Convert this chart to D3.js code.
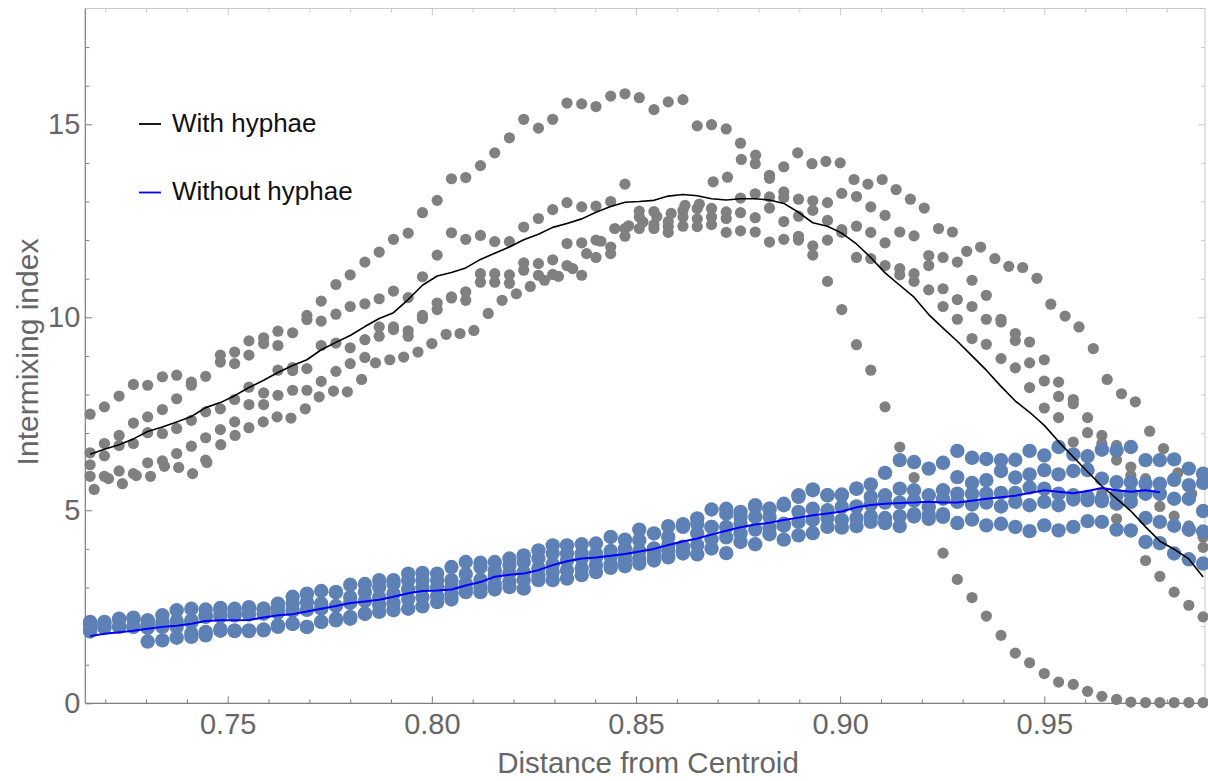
<!DOCTYPE html>
<html>
<head>
<meta charset="utf-8">
<script src="https://cdn.jsdelivr.net/npm/d3@7"></script>
<style>
  body { margin: 0; background: #ffffff; }
  svg { display: block; }
  text { font-family: "Liberation Sans", Arial, Helvetica, sans-serif; }
</style>
</head>
<body>
<svg id="chart" width="1208" height="781"></svg>
<script>
// Normalised distance from the colony centroid at which each profile was sampled
const radius = [0.7163,0.7198,0.7234,0.7269,0.7304,0.7340,0.7375,0.7411,0.7446,0.7482,
  0.7517,0.7552,0.7588,0.7623,0.7659,0.7694,0.7729,0.7765,0.7800,0.7836,
  0.7871,0.7906,0.7942,0.7977,0.8013,0.8048,0.8083,0.8119,0.8154,0.8190,
  0.8225,0.8261,0.8296,0.8331,0.8367,0.8402,0.8438,0.8473,0.8508,0.8544,
  0.8579,0.8615,0.8650,0.8685,0.8721,0.8756,0.8792,0.8827,0.8862,0.8898,
  0.8933,0.8969,0.9004,0.9040,0.9075,0.9110,0.9146,0.9181,0.9217,0.9252,
  0.9287,0.9323,0.9358,0.9394,0.9429,0.9464,0.9500,0.9535,0.9571,0.9606,
  0.9641,0.9677,0.9712,0.9748,0.9783,0.9818,0.9854,0.9889];

// The second colony with hyphae was sampled on a slightly finer radial grid
const radiusColony2 = [0.7173,0.7208,0.7242,0.7276,0.7311,0.7345,0.7380,0.7414,0.7449,0.7483,
  0.7518,0.7552,0.7587,0.7621,0.7655,0.7690,0.7724,0.7759,0.7793,0.7828,
  0.7862,0.7897,0.7931,0.7966,0.8000,0.8035,0.8069,0.8103,0.8138,0.8172,
  0.8207,0.8241,0.8276,0.8310,0.8345,0.8379,0.8414,0.8448,0.8482,0.8517,
  0.8551,0.8586,0.8620,0.8655,0.8689,0.8724,0.8758,0.8793,0.8827,0.8862,
  0.8896,0.8931,0.8965,0.9000,0.9034,0.9068,0.9103,0.9137,0.9172,0.9206,
  0.9241,0.9275,0.9310,0.9344,0.9379,0.9413,0.9447,0.9482,0.9516,0.9551,
  0.9585,0.9620,0.9654,0.9689,0.9723,0.9758,0.9792,0.9827,0.9861];

// Intermixing index, colonies grown with hyphae
const withHyphae1 = [7.49,7.68,7.96,8.26,8.24,8.46,8.50,8.32,8.47,9.02,9.10,9.39,9.47,9.64,9.60,10.05,10.42,10.85,11.10,11.43,
  11.69,12.02,12.18,12.71,13.03,13.59,13.62,13.93,14.26,14.65,15.13,14.90,15.13,15.55,15.53,15.46,15.73,15.79,15.69,15.38,
  15.58,15.64,14.96,14.99,14.88,14.51,13.98,13.60,13.25,12.62,11.61,10.93,10.20,9.29,8.63,7.68,6.64,5.85,4.95,3.89,
  3.21,2.74,2.26,1.76,1.30,1.05,0.77,0.55,0.49,0.31,0.18,0.10,0.03,0.02,0.02,0.02,0.02,0.02];
const withHyphae2 = [5.54,5.82,5.69,5.90,5.88,6.14,6.11,5.95,6.24,6.70,6.94,7.14,7.29,7.42,7.39,7.63,7.94,8.09,8.07,8.39,
  8.82,8.90,8.97,9.10,9.32,9.56,9.58,9.66,10.10,10.44,10.61,10.80,10.96,11.06,11.26,11.65,11.97,12.30,12.37,12.47,
  12.61,12.69,12.90,12.93,13.51,13.63,14.09,14.20,13.68,13.90,14.26,13.98,14.04,14.00,13.57,13.45,13.57,13.31,13.06,12.83,
  12.30,12.21,11.71,11.82,11.52,11.32,11.29,11.01,10.34,10.03,9.75,9.19,8.39,8.02,7.81,7.05,6.60,5.97,5.43];
const withHyphae3 = [6.49,6.73,6.94,7.26,7.42,7.61,7.89,8.24,7.55,8.84,8.80,9.02,9.32,9.27,8.70,9.94,9.90,10.08,10.28,10.35,
  10.48,10.68,10.51,11.05,11.61,12.19,12.02,12.12,11.96,11.96,12.34,12.56,12.79,12.97,12.86,12.88,13.00,13.45,12.75,12.74,
  12.48,12.77,12.82,12.82,12.73,13.09,13.20,13.12,13.10,13.06,13.02,12.97,13.21,13.13,12.86,12.64,12.21,12.11,11.60,11.55,
  11.43,10.96,10.57,9.95,9.58,9.36,8.90,8.32,7.87,7.40,6.94,6.68,6.12,5.82,5.39,4.85,4.60,4.30];
const withHyphae4 = [6.18,6.41,6.68,6.73,7.01,6.99,7.12,7.33,6.88,7.63,7.87,8.19,8.04,8.63,8.62,8.67,9.27,9.33,9.21,9.42,
  9.75,9.75,9.65,10.05,10.37,10.53,10.66,11.13,11.13,11.10,11.41,11.39,11.49,11.91,11.93,12.00,11.82,12.30,12.60,12.40,
  12.35,12.60,12.55,12.60,12.56,12.71,12.58,12.83,12.48,12.10,12.77,12.51,12.27,12.36,12.20,11.93,11.26,11.13,11.34,10.74,
  10.46,10.28,9.95,9.88,9.40,8.82,8.35,7.95,7.76,7.01,6.73,6.30,5.90,5.50,5.10,4.61,4.46,4.04];
const withHyphae5 = [5.88,5.88,6.02,5.95,6.23,6.28,6.47,6.66,6.30,7.09,7.29,7.74,7.74,7.98,8.11,8.11,8.34,8.60,8.80,8.96,
  9.51,9.68,9.51,9.97,10.20,10.50,10.44,10.91,10.91,10.88,11.22,11.09,11.11,11.34,11.09,11.55,11.65,12.10,12.30,12.30,
  12.20,12.36,12.35,12.40,12.20,12.24,12.21,11.95,12.02,12.00,11.85,12.00,12.20,11.55,11.52,11.34,11.10,10.93,10.71,10.28,
  9.95,9.45,9.30,8.93,8.69,8.18,7.65,7.40,6.77,6.10,5.43,4.78,4.44,3.70,3.29,2.88,2.54,2.24];
const withHyphaeMean = [6.45,6.58,6.70,6.85,7.04,7.16,7.29,7.43,7.66,7.79,7.97,8.18,8.37,8.57,8.75,8.90,9.16,9.35,9.53,9.76,
  9.97,10.12,10.46,10.83,11.07,11.16,11.28,11.50,11.66,11.82,12.01,12.15,12.33,12.43,12.55,12.72,12.87,12.98,13.00,13.03,
  13.14,13.18,13.15,13.07,13.04,13.07,13.07,13.04,12.95,12.72,12.45,12.36,12.18,11.90,11.55,11.15,10.83,10.52,10.07,9.72,
  9.38,9.00,8.63,8.21,7.83,7.54,7.20,6.78,6.38,6.00,5.63,5.30,4.98,4.57,4.20,3.99,3.74,3.27];

// Intermixing index, colonies grown without hyphae
const withoutHyphae1 = [2.11,2.11,2.19,2.22,2.15,2.28,2.41,2.45,2.43,2.47,2.45,2.49,2.45,2.58,2.76,2.84,2.91,2.88,3.07,3.09,
  3.19,3.19,3.36,3.38,3.36,3.53,3.66,3.64,3.66,3.75,3.83,3.96,4.09,4.09,4.12,4.14,4.31,4.24,4.50,4.40,
  4.59,4.64,4.79,5.02,5.04,4.96,5.13,5.04,5.17,5.39,5.54,5.39,5.41,5.56,5.67,5.97,6.30,6.25,6.08,6.23,
  6.54,6.36,6.33,6.30,6.31,6.54,6.42,6.64,6.45,6.40,6.57,6.55,6.64,6.30,6.30,6.32,6.08,5.95];
const withoutHyphae2 = [2.05,2.08,2.18,2.19,2.13,2.11,2.13,2.15,2.28,2.40,2.32,2.45,2.45,2.49,2.58,2.62,2.58,2.88,2.75,2.88,
  3.01,3.10,3.19,3.19,3.19,3.19,3.35,3.53,3.45,3.58,3.66,3.75,3.88,3.88,3.88,3.88,3.95,4.01,4.22,4.01,
  4.31,4.57,4.65,4.57,4.91,4.83,5.09,5.04,5.13,5.35,5.52,5.39,5.39,5.56,5.35,5.39,5.56,5.52,5.39,5.52,
  5.86,5.71,5.78,6.02,5.85,5.93,6.04,5.93,6.02,6.04,5.82,5.73,5.73,5.69,5.69,5.79,5.65,5.71];
const withoutHyphae3 = [1.93,1.98,2.00,1.99,2.02,2.05,2.08,2.10,2.24,2.25,2.28,2.30,2.32,2.35,2.40,2.42,2.45,2.52,2.60,2.65,
  2.75,2.84,2.95,3.00,3.01,3.01,3.10,3.20,3.30,3.38,3.40,3.50,3.60,3.70,3.75,3.78,3.80,3.85,3.95,4.00,
  4.10,4.06,4.40,4.57,4.57,4.65,4.83,4.83,4.65,4.96,5.04,5.00,5.09,5.10,5.15,5.20,5.20,5.25,5.09,5.30,
  5.43,5.43,5.43,5.45,5.45,5.59,5.56,5.43,5.39,5.35,5.30,5.39,5.43,5.43,5.43,5.30,5.30,4.98];
const withoutHyphae4 = [1.86,1.96,1.98,1.98,1.95,1.98,1.98,1.81,1.85,1.92,1.89,1.89,1.91,2.02,2.06,1.98,2.11,2.19,2.24,2.32,
  2.55,2.60,2.70,2.75,2.78,2.82,2.95,3.00,3.08,3.15,3.20,3.30,3.40,3.45,3.50,3.58,3.60,3.70,3.75,3.85,
  3.95,3.95,4.10,4.25,4.30,4.40,4.50,4.55,4.60,4.70,4.75,4.80,4.75,4.80,4.85,4.80,4.85,4.90,4.88,4.90,
  5.22,5.15,5.20,5.10,5.22,5.13,5.22,5.13,5.28,5.26,5.24,5.17,5.22,4.80,4.70,4.60,4.50,4.45];
const withoutHyphae5 = [null,null,null,null,1.60,1.63,1.70,1.72,1.76,1.88,1.87,1.87,1.89,1.98,2.06,1.98,2.11,2.15,2.19,2.32,
  2.37,2.41,2.45,2.51,2.62,2.69,2.88,2.88,2.95,3.01,2.97,3.19,3.19,3.23,3.32,3.40,3.51,3.55,3.62,3.70,
  3.78,3.88,3.86,4.01,3.89,4.18,4.12,4.38,4.24,4.35,4.41,4.57,4.55,4.59,4.70,4.67,4.59,4.84,4.78,4.83,
  4.67,4.76,4.61,4.65,4.57,4.46,4.61,4.48,4.57,4.72,4.70,4.50,4.48,4.18,4.15,3.88,3.73,3.62];
const withoutHyphaeMean = [1.74,1.80,1.84,1.88,1.93,1.98,2.01,2.06,2.13,2.15,2.15,2.16,2.22,2.28,2.31,2.38,2.45,2.52,2.60,2.64,
  2.68,2.76,2.85,2.91,2.92,2.95,3.05,3.14,3.28,3.33,3.36,3.45,3.58,3.68,3.75,3.78,3.82,3.87,3.93,4.00,
  4.10,4.19,4.27,4.37,4.47,4.56,4.63,4.68,4.75,4.81,4.87,4.92,4.97,5.08,5.14,5.17,5.19,5.20,5.22,5.20,
  5.20,5.25,5.30,5.34,5.38,5.45,5.52,5.48,5.44,5.50,5.58,5.52,5.48,5.52,5.47];

const xTicks = [0.75, 0.80, 0.85, 0.90, 0.95];
const xTickLabels = ["0.75", "0.80", "0.85", "0.90", "0.95"];
const yTicks = [0, 5, 10, 15];
const legendLabels = ["With hyphae", "Without hyphae"];
const xTitle = "Distance from Centroid";
const yTitle = "Intermixing index";

// ---- drawing ----
const svg = d3.select("#chart");
const plot = { left: 85.3, right: 1205, top: 8.5, bottom: 703.3 };

const x = d3.scaleLinear().domain([0.71512, 0.98936]).range([plot.left, plot.right]);
const y = d3.scaleLinear().domain([0, 18]).range([plot.bottom, plot.top]);

const grey = "#808080";
const steel = "#5e81b5";
const axisDark = "#7d7d7d";
const axisLight = "#c9c9c9";
const labelColor = "#666666";

const toPoints = (xs, ys) => ys.map((v, i) => [xs[i], v]).filter(d => d[1] != null);

// Frame ticks
const minorX = d3.range(72, 99).map(v => v / 100)
  .filter(v => !xTicks.some(t => Math.abs(t - v) < 1e-9) && v <= x.domain()[1]);
const minorY = d3.range(1, 18).filter(v => !yTicks.includes(v));

function styleAxis(g, color) {
  g.select(".domain").remove();
  g.selectAll(".tick line").attr("stroke", color).attr("stroke-width", 1);
}

// top and right (light mirrored frame)
const gTop = svg.append("g").attr("transform", `translate(0,${plot.top})`);
gTop.append("g").call(d3.axisTop(x).tickValues(minorX).tickSize(-4).tickFormat("")).call(g => styleAxis(g, axisLight));
gTop.append("g").call(d3.axisTop(x).tickValues(xTicks).tickSize(-7).tickFormat("")).call(g => styleAxis(g, axisLight));
const gRight = svg.append("g").attr("transform", `translate(${plot.right},0)`);
gRight.append("g").call(d3.axisRight(y).tickValues(minorY).tickSize(-4).tickFormat("")).call(g => styleAxis(g, axisLight));
gRight.append("g").call(d3.axisRight(y).tickValues(yTicks).tickSize(-7).tickFormat("")).call(g => styleAxis(g, axisLight));
svg.append("line").attr("x1", plot.left).attr("x2", plot.right).attr("y1", plot.top).attr("y2", plot.top)
  .attr("stroke", axisLight).attr("stroke-width", 1);
svg.append("line").attr("x1", plot.right).attr("x2", plot.right).attr("y1", plot.top).attr("y2", plot.bottom)
  .attr("stroke", axisLight).attr("stroke-width", 1);

// bottom axis
const gBottom = svg.append("g").attr("transform", `translate(0,${plot.bottom})`);
gBottom.append("g").call(d3.axisBottom(x).tickValues(minorX).tickSize(-4).tickFormat("")).call(g => styleAxis(g, axisDark));
gBottom.append("g")
  .call(d3.axisBottom(x).tickValues(xTicks).tickSize(-7).tickPadding(10)
    .tickFormat((d, i) => xTickLabels[i]))
  .call(g => styleAxis(g, axisDark))
  .call(g => g.selectAll(".tick text")
    .attr("fill", labelColor).style("font-size", "29px")
    .style("font-family", '"Liberation Sans", Arial, sans-serif'));

// left axis
const gLeft = svg.append("g").attr("transform", `translate(${plot.left},0)`);
gLeft.append("g").call(d3.axisLeft(y).tickValues(minorY).tickSize(-4).tickFormat("")).call(g => styleAxis(g, axisDark));
gLeft.append("g")
  .call(d3.axisLeft(y).tickValues(yTicks).tickSize(-7).tickPadding(5).tickFormat(d3.format("d")))
  .call(g => styleAxis(g, axisDark))
  .call(g => g.selectAll(".tick text")
    .attr("fill", labelColor).style("font-size", "29px")
    .style("font-family", '"Liberation Sans", Arial, sans-serif'));

svg.append("line").attr("x1", plot.left).attr("x2", plot.right).attr("y1", plot.bottom).attr("y2", plot.bottom)
  .attr("stroke", axisDark).attr("stroke-width", 1.2);
svg.append("line").attr("x1", plot.left).attr("x2", plot.left).attr("y1", plot.top).attr("y2", plot.bottom)
  .attr("stroke", axisDark).attr("stroke-width", 1.2);

// axis titles
svg.append("text")
  .attr("x", 648).attr("y", 773)
  .attr("text-anchor", "middle")
  .attr("fill", labelColor)
  .style("font-size", "29.5px")
  .text(xTitle);
svg.append("text")
  .attr("transform", "translate(38,352) rotate(-90)")
  .attr("text-anchor", "middle")
  .attr("fill", labelColor)
  .style("font-size", "30px")
  .text(yTitle);

// scatter: with hyphae
const greySeries = [
  toPoints(radius, withHyphae1),
  toPoints(radiusColony2, withHyphae2),
  toPoints(radius, withHyphae3),
  toPoints(radius, withHyphae4),
  toPoints(radius, withHyphae5)
];
svg.append("g").selectAll("g").data(greySeries).join("g")
  .selectAll("circle").data(d => d).join("circle")
  .attr("cx", d => x(d[0])).attr("cy", d => y(d[1]))
  .attr("r", 5.6).attr("fill", grey);

// scatter: without hyphae
const blueSeries = [withoutHyphae1, withoutHyphae2, withoutHyphae3, withoutHyphae4, withoutHyphae5]
  .map(s => toPoints(radius, s));
svg.append("g").selectAll("g").data(blueSeries).join("g")
  .selectAll("circle").data(d => d).join("circle")
  .attr("cx", d => x(d[0])).attr("cy", d => y(d[1]))
  .attr("r", 7.2).attr("fill", steel);

// mean profiles
const line = d3.line().x(d => x(d[0])).y(d => y(d[1]));
svg.append("path")
  .datum(toPoints(radius, withHyphaeMean))
  .attr("d", line).attr("fill", "none")
  .attr("stroke", "#000000").attr("stroke-width", 1.6).attr("stroke-linejoin", "round");
svg.append("path")
  .datum(toPoints(radius, withoutHyphaeMean))
  .attr("d", line).attr("fill", "none")
  .attr("stroke", "#0000ff").attr("stroke-width", 2).attr("stroke-linejoin", "round");

// legend
const legendColors = ["#000000", "#0000ff"];
const legendRows = [124, 192.5];
legendLabels.forEach((label, i) => {
  const ly = legendRows[i];
  svg.append("line")
    .attr("x1", 139).attr("x2", 161).attr("y1", ly).attr("y2", ly)
    .attr("stroke", legendColors[i]).attr("stroke-width", 1.8);
  svg.append("text")
    .attr("x", 172).attr("y", ly + 7.5)
    .attr("fill", "#111111")
    .style("font-size", "26px")
    .text(label);
});
</script>
</body>
</html>
